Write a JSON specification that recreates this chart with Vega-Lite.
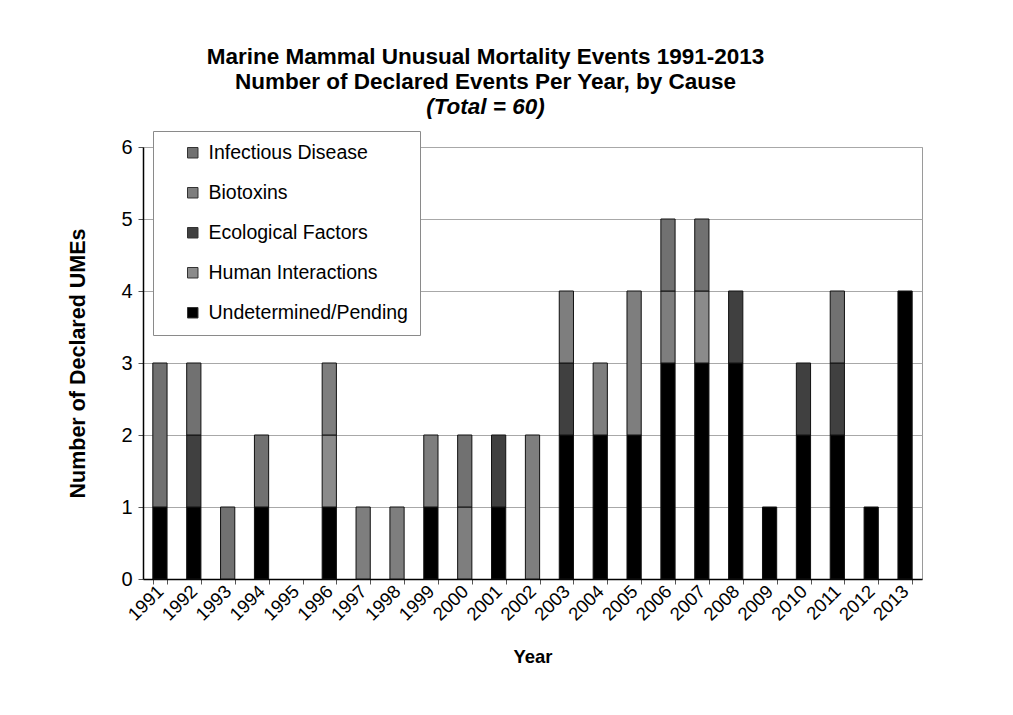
{
  "$schema": "https://vega.github.io/schema/vega-lite/v6.json",
  "width": 779,
  "height": 432,
  "autosize": "none",
  "padding": {"left": 143, "top": 147, "right": 91, "bottom": 136},
  "background": "white",
  "title": {
    "text": ["Marine Mammal Unusual Mortality Events 1991-2013", "Number of Declared Events Per Year, by Cause"],
    "subtitle": "(Total = 60)",
    "anchor": "middle",
    "dx": -47,
    "offset": 12,
    "font": "Liberation Sans",
    "fontSize": 22.5,
    "fontWeight": "bold",
    "lineHeight": 25,
    "color": "black",
    "subtitleFont": "Liberation Sans",
    "subtitleFontSize": 22.5,
    "subtitleFontWeight": "bold",
    "subtitleFontStyle": "italic",
    "subtitleColor": "black",
    "subtitlePadding": 3,
    "subtitleLineHeight": 25
  },
  "data": {
    "values": [
      {"year": "1991", "cause": "Undetermined/Pending", "count": 1},
      {"year": "1991", "cause": "Infectious Disease", "count": 2},
      {"year": "1992", "cause": "Undetermined/Pending", "count": 1},
      {"year": "1992", "cause": "Ecological Factors", "count": 1},
      {"year": "1992", "cause": "Infectious Disease", "count": 1},
      {"year": "1993", "cause": "Infectious Disease", "count": 1},
      {"year": "1994", "cause": "Undetermined/Pending", "count": 1},
      {"year": "1994", "cause": "Infectious Disease", "count": 1},
      {"year": "1996", "cause": "Undetermined/Pending", "count": 1},
      {"year": "1996", "cause": "Human Interactions", "count": 1},
      {"year": "1996", "cause": "Biotoxins", "count": 1},
      {"year": "1997", "cause": "Biotoxins", "count": 1},
      {"year": "1998", "cause": "Biotoxins", "count": 1},
      {"year": "1999", "cause": "Undetermined/Pending", "count": 1},
      {"year": "1999", "cause": "Biotoxins", "count": 1},
      {"year": "2000", "cause": "Biotoxins", "count": 1},
      {"year": "2000", "cause": "Infectious Disease", "count": 1},
      {"year": "2001", "cause": "Undetermined/Pending", "count": 1},
      {"year": "2001", "cause": "Ecological Factors", "count": 1},
      {"year": "2002", "cause": "Biotoxins", "count": 2},
      {"year": "2003", "cause": "Undetermined/Pending", "count": 2},
      {"year": "2003", "cause": "Ecological Factors", "count": 1},
      {"year": "2003", "cause": "Biotoxins", "count": 1},
      {"year": "2004", "cause": "Undetermined/Pending", "count": 2},
      {"year": "2004", "cause": "Biotoxins", "count": 1},
      {"year": "2005", "cause": "Undetermined/Pending", "count": 2},
      {"year": "2005", "cause": "Biotoxins", "count": 2},
      {"year": "2006", "cause": "Undetermined/Pending", "count": 3},
      {"year": "2006", "cause": "Biotoxins", "count": 1},
      {"year": "2006", "cause": "Infectious Disease", "count": 1},
      {"year": "2007", "cause": "Undetermined/Pending", "count": 3},
      {"year": "2007", "cause": "Human Interactions", "count": 1},
      {"year": "2007", "cause": "Infectious Disease", "count": 1},
      {"year": "2008", "cause": "Undetermined/Pending", "count": 3},
      {"year": "2008", "cause": "Ecological Factors", "count": 1},
      {"year": "2009", "cause": "Undetermined/Pending", "count": 1},
      {"year": "2010", "cause": "Undetermined/Pending", "count": 2},
      {"year": "2010", "cause": "Ecological Factors", "count": 1},
      {"year": "2011", "cause": "Undetermined/Pending", "count": 2},
      {"year": "2011", "cause": "Ecological Factors", "count": 1},
      {"year": "2011", "cause": "Infectious Disease", "count": 1},
      {"year": "2012", "cause": "Undetermined/Pending", "count": 1},
      {"year": "2013", "cause": "Undetermined/Pending", "count": 4}
    ]
  },
  "transform": [
    {"calculate": "indexof(['Undetermined/Pending','Human Interactions','Ecological Factors','Biotoxins','Infectious Disease'], datum.cause)", "as": "stackOrder"}
  ],
  "mark": {"type": "bar", "stroke": "#111111", "strokeWidth": 1},
  "encoding": {
    "x": {
      "field": "year",
      "type": "nominal",
      "title": "Year",
      "scale": {
        "domain": ["1991","1992","1993","1994","1995","1996","1997","1998","1999","2000","2001","2002","2003","2004","2005","2006","2007","2008","2009","2010","2011","2012","2013"],
        "paddingInner": 0.58,
        "paddingOuter": 0.29
      },
      "axis": {
        "labelAngle": -45,
        "labelAlign": "right",
        "labelBaseline": "middle",
        "labelFont": "Liberation Sans",
        "labelFontSize": 18.5,
        "labelColor": "black",
        "labelPadding": 4,
        "tickBand": "extent",
        "tickColor": "#555555",
        "tickSize": 5,
        "domainColor": "black",
        "domainWidth": 1.5,
        "grid": false,
        "titleFont": "Liberation Sans",
        "titleFontSize": 18.5,
        "titleFontWeight": "bold",
        "titleColor": "black",
        "titlePadding": 24
      }
    },
    "y": {
      "field": "count",
      "type": "quantitative",
      "aggregate": "sum",
      "stack": "zero",
      "title": "Number of Declared UMEs",
      "scale": {"domain": [0, 6], "nice": false},
      "axis": {
        "values": [0, 1, 2, 3, 4, 5, 6],
        "labelFont": "Liberation Sans",
        "labelFontSize": 20,
        "labelColor": "black",
        "labelPadding": 6,
        "tickColor": "#555555",
        "tickSize": 5,
        "domainColor": "black",
        "domainWidth": 1.5,
        "gridColor": "#a8a8a8",
        "gridWidth": 1,
        "titleFont": "Liberation Sans",
        "titleFontSize": 21.5,
        "titleFontWeight": "bold",
        "titleColor": "black",
        "titlePadding": 31
      }
    },
    "color": {
      "field": "cause",
      "type": "nominal",
      "title": null,
      "scale": {
        "domain": ["Infectious Disease", "Biotoxins", "Ecological Factors", "Human Interactions", "Undetermined/Pending"],
        "range": ["#717171", "#7e7e7e", "#404040", "#8b8b8b", "#000000"]
      },
      "legend": {
        "orient": "none",
        "legendX": 10,
        "legendY": -16,
        "fillColor": "white",
        "strokeColor": "#8a8a8a",
        "padding": 12,
        "symbolOffset": 18,
        "symbolType": "square",
        "symbolSize": 110,
        "symbolStrokeColor": "#333333",
        "symbolStrokeWidth": 1,
        "symbolOpacity": 1,
        "labelFont": "Liberation Sans",
        "labelFontSize": 19.5,
        "labelColor": "black",
        "labelLimit": 300,
        "rowPadding": 19,
        "labelOffset": 6
      }
    },
    "order": {"field": "stackOrder", "type": "quantitative", "sort": "ascending"}
  },
  "config": {
    "view": {"stroke": "#9a9a9a", "strokeWidth": 1}
  }
}
